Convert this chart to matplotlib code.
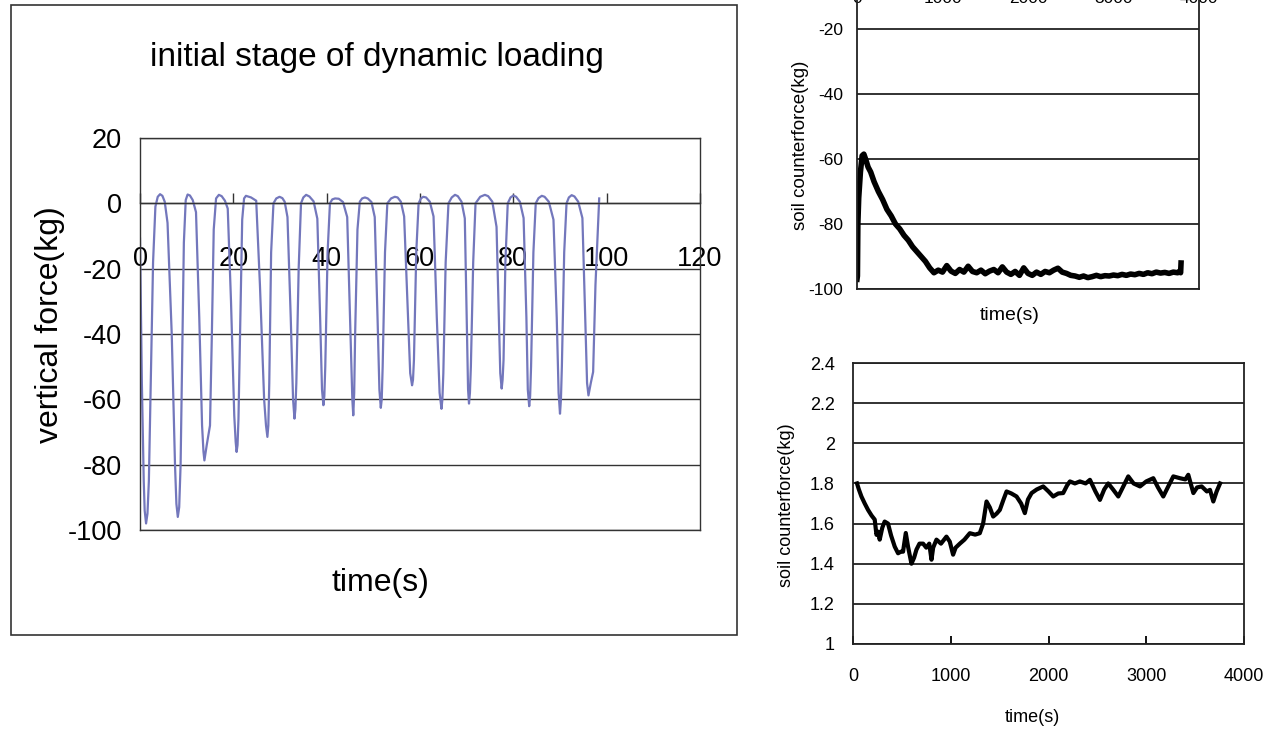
import matplotlib
matplotlib.use("Agg")
import matplotlib.pyplot as plt
from matplotlib.patches import Rectangle

plt.rcParams['font.family'] = ['Liberation Sans', 'DejaVu Sans']
plt.rcParams['axes.unicode_minus'] = False

# --- left chart: initial stage of dynamic loading
load_t = [0, 0.4, 0.8, 1.0, 1.3, 1.6, 1.9, 2.3, 2.8, 3.3, 3.8, 4.3, 4.8, 5.3, 5.9, 6.8, 7.5, 7.8,
          8.1, 8.4, 8.7, 9.0, 9.4, 9.8, 10.2, 10.7, 11.3, 12.0, 12.7, 13.3, 13.6, 13.8, 14.3, 15.0,
          15.4, 15.8, 16.3, 16.9, 17.5, 18.2, 18.8, 19.5, 20.2, 20.5, 20.7, 20.9, 21.1, 21.5, 21.9,
          22.3, 22.7, 23.8, 24.9, 25.7, 26.6, 27.0, 27.3, 27.5, 27.7, 28.1, 28.6, 29.2, 29.9, 30.5,
          31.0, 31.6, 32.3, 32.8, 33.1, 33.3, 33.5, 34.0, 34.5, 35.0, 35.6, 36.3, 37.2, 38.0, 38.6,
          39.0, 39.3, 39.5, 39.7, 40.2, 40.7, 41.2, 41.8, 42.6, 43.5, 44.4, 45.0, 45.5, 45.7, 45.9,
          46.1, 46.6, 47.1, 47.6, 48.2, 48.8, 49.6, 50.3, 50.9, 51.3, 51.6, 51.8, 52.0, 52.5, 53.0,
          53.8, 54.6, 55.2, 55.9, 56.6, 57.3, 57.9, 58.3, 58.5, 58.7, 59.2, 59.7, 60.2, 60.7, 61.3,
          62.1, 62.9, 63.6, 64.2, 64.6, 64.8, 65.0, 65.5, 66.1, 66.8, 67.5, 68.1, 68.9, 69.6, 70.0,
          70.3, 70.5, 70.7, 70.9, 71.4, 71.9, 72.9, 73.9, 74.6, 75.5, 76.4, 76.9, 77.2, 77.5, 77.7,
          77.9, 78.3, 78.8, 79.4, 80.0, 80.6, 81.4, 82.2, 82.8, 83.1, 83.4, 83.6, 83.8, 84.3, 84.8,
          85.4, 86.1, 86.7, 87.6, 88.6, 89.3, 89.7, 90.0, 90.2, 90.4, 90.9, 91.4, 91.9, 92.5, 93.1,
          93.9, 94.8, 95.4, 95.8, 96.1, 96.6, 97.1, 97.6, 98.4]
load_f = [-10.8, -55, -85, -94, -98, -95, -85, -55, -18, -1, 2.0, 2.8, 2.3, 0.5, -6, -40, -80, -92,
          -96, -93, -80, -50, -12, 1.0, 2.7, 2.4, 1.0, -2.7, -35, -68, -76, -78.7, -74, -68,
          -40, -8, 1.5, 2.6, 2.2, 0.8, -1.6, -30, -65, -73, -76.1, -74, -66, -35, -5,
          1.5, 2.3, 1.8, 0.8, -25, -60, -68, -71.5, -68, -55, -15, 0, 1.5, 2.0, 1.6,
          0.5, -4.2, -35, -60, -65.9, -63, -55, -20, 0, 1.8, 2.6, 2.1, 0.6, -4.7, -35,
          -57, -61.8, -59, -50, -15, 0, 1.2, 1.5, 1.4, 0.4, -4.2, -35, -60, -64.9, -58,
          -40, -8, 0.5, 1.5, 1.8, 1.5, 0.4, -4.2, -35, -57, -62.6, -60, -50, -15, 0,
          1.5, 2.0, 1.8, 0.5, -4.0, -30, -52, -55.7, -54, -48, -15, 0, 1.5, 2.0, 1.8,
          0.5, -4.0, -35, -58, -62.9, -60, -52, -18, 0, 1.8, 2.6, 2.2, 0.5, -4.6, -35,
          -57, -61.3, -58, -50, -18, 0, 2.0, 2.6, 2.2, 0.5, -7.2, -35, -52, -56.7, -54,
          -48, -18, 0, 1.8, 2.4, 2.0, 0.5, -4.5, -35, -57, -62.1, -59, -50, -15, 0,
          1.6, 2.3, 2.0, 0.5, -5.0, -35, -58, -64.4, -60, -50, -15, 0, 1.8, 2.5, 2.1,
          0.5, -4.5, -35, -55, -58.8, -55, -51.6, -25, 1.5]
load_xticks = [0, 20, 40, 60, 80, 100, 120]
load_yticks = [-100, -80, -60, -40, -20, 0, 20]

# --- top right: soil counterforce, long record
soil1_t = [0, 5, 10, 20, 40, 60, 80, 100, 130, 160, 200, 250, 300, 350, 400, 450, 500, 550, 600,
           650, 700, 750, 800, 850, 900, 950, 1000, 1050, 1100, 1150, 1200, 1250, 1300, 1350,
           1400, 1450, 1500, 1550, 1600, 1650, 1700, 1750, 1800, 1850, 1900, 1950, 2000, 2050,
           2100, 2150, 2200, 2250, 2300, 2350, 2400, 2450, 2500, 2550, 2600, 2650, 2700, 2750,
           2800, 2850, 2900, 2950, 3000, 3050, 3100, 3150, 3200, 3250, 3300, 3350, 3400, 3450,
           3500, 3550, 3600, 3650, 3700, 3750, 3770, 3785, 3790]
soil1_f = [-97, -96, -80, -72, -64, -59, -58.5, -60, -62.5, -64, -67, -70, -72.5, -75.5, -77.5,
           -80, -81.5, -83.5, -85, -87, -88.5, -90, -91.5, -93.5, -95, -94.2, -94.8, -92.8,
           -94.5, -95.2, -94.0, -94.8, -93.0, -94.6, -95.0, -94.2, -95.3, -94.5, -94.0, -95.0,
           -93.2, -94.8, -95.5, -94.6, -95.8, -93.5, -95.2, -95.8, -94.8, -95.5, -94.6, -95.0,
           -94.2, -93.6, -94.8, -95.2, -95.8, -96.0, -96.4, -96.0, -96.5, -96.2, -95.8, -96.2,
           -95.9, -96.0, -95.7, -95.9, -95.5, -95.8, -95.4, -95.6, -95.2, -95.5, -95.0, -95.3,
           -94.8, -95.1, -94.9, -95.2, -94.8, -95.0, -94.6, -95.0, -92.0]
soil1_xticks = [0, 1000, 2000, 3000, 4000]
soil1_yticks = [-100, -80, -60, -40, -20, 0]

# --- bottom right: soil counterforce, small range
soil2_t = [41, 60, 86, 120, 154, 190, 222, 240, 255, 273, 300, 324, 358, 390, 427, 461, 490, 512,
           540, 563, 598, 625, 649, 680, 717, 750, 780, 803, 820, 854, 900, 956, 990, 1024, 1050,
           1093, 1140, 1195, 1250, 1297, 1331, 1366, 1400, 1434, 1470, 1502, 1540, 1571, 1620,
           1673, 1720, 1758, 1790, 1827, 1880, 1946, 2000, 2048, 2100, 2150, 2190, 2219, 2270,
           2321, 2380, 2424, 2480, 2526, 2570, 2611, 2660, 2714, 2760, 2816, 2870, 2936, 3000,
           3072, 3120, 3174, 3230, 3277, 3345, 3400, 3430, 3482, 3520, 3567, 3620, 3652, 3686,
           3720, 3755]
soil2_f = [1.80, 1.77, 1.735, 1.70, 1.668, 1.64, 1.62, 1.544, 1.56, 1.52, 1.58, 1.61, 1.60, 1.54,
           1.485, 1.452, 1.46, 1.46, 1.553, 1.485, 1.40, 1.43, 1.47, 1.50, 1.50, 1.48, 1.50, 1.42,
           1.48, 1.52, 1.50, 1.535, 1.51, 1.445, 1.48, 1.50, 1.52, 1.552, 1.545, 1.552, 1.60,
           1.71, 1.68, 1.635, 1.65, 1.668, 1.72, 1.76, 1.75, 1.735, 1.70, 1.652, 1.72, 1.752,
           1.77, 1.785, 1.76, 1.735, 1.75, 1.752, 1.79, 1.81, 1.80, 1.81, 1.80, 1.818, 1.76,
           1.718, 1.77, 1.80, 1.77, 1.735, 1.78, 1.835, 1.80, 1.785, 1.81, 1.826, 1.78, 1.735,
           1.79, 1.835, 1.826, 1.82, 1.843, 1.752, 1.78, 1.785, 1.76, 1.768, 1.71, 1.76, 1.80]
soil2_xticks = [0, 1000, 2000, 3000, 4000]
soil2_yticks = [1, 1.2, 1.4, 1.6, 1.8, 2, 2.2, 2.4]
soil2_ylabels = ['1', '1.2', '1.4', '1.6', '1.8', '2', '2.2', '2.4']

W, H = 1273, 729
edge = '#333333'


def fig_rect(left, top, right, bottom):
    # pixel box -> figure fraction
    return [left / W, 1 - bottom / H, (right - left) / W, (bottom - top) / H]


fig = plt.figure(figsize=(W / 100, H / 100), dpi=100)

# frame around the left chart
fig.patches.append(Rectangle((11 / W, 1 - 635 / H), 726 / W, 630 / H, transform=fig.transFigure,
                             fill=False, ec=edge, lw=1.2))

# ---------------- left chart
ax = fig.add_axes(fig_rect(140, 138, 700, 530))
ax.plot(load_t, load_f, color='#7377BC', lw=1.6)
ax.set_xlim(0, 120)
ax.set_ylim(-100, 20)
ax.set_xticks(load_xticks)
ax.set_yticks(load_yticks)
ax.spines['bottom'].set_position(('data', 0))
for s in ax.spines.values():
    s.set_color(edge)
    s.set_linewidth(1.0)
ax.axhline(-100, color=edge, lw=1.0, clip_on=False)
ax.grid(axis='y', color=edge, lw=1.0)
ax.tick_params(axis='x', direction='in', length=7, width=1.0, color=edge, pad=31, labelsize=19.5)
ax.tick_params(axis='y', length=0, pad=13, labelsize=19.5)
ax.set_ylabel('vertical force(kg)', fontsize=23, va='center')
ax.yaxis.set_label_coords(-0.161, 0.523)
ax.set_xlabel('time(s)', fontsize=23, va='center')
ax.xaxis.set_label_coords(0.4286, -0.135)
ax.set_title('initial stage of dynamic loading', fontsize=24, x=0.423, y=1.185, va='center')

# ---------------- top right chart (top edge runs off the figure, as in the source)
ax1 = fig.add_axes(fig_rect(857, -36, 1199, 289))
ax1.plot(soil1_t, soil1_f, color='black', lw=4.0, solid_joinstyle='round')
ax1.set_xlim(0, 4000)
ax1.set_ylim(-100, 0)
ax1.set_xticks(soil1_xticks)
ax1.set_yticks(soil1_yticks)
for s in ax1.spines.values():
    s.set_color('#222222')
    s.set_linewidth(1.3)
ax1.grid(axis='y', color='#222222', lw=1.3)
ax1.tick_params(axis='x', top=True, bottom=False, labeltop=True, labelbottom=False,
                direction='in', length=6, pad=-30, labelsize=12.5)
ax1.tick_params(axis='y', length=0, pad=10, labelsize=12.5)
ax1.set_ylabel('soil counterforce(kg)', fontsize=13.5, va='center')
ax1.yaxis.set_label_coords(-0.164, 0.443)
ax1.xaxis.set_label_position('bottom')
ax1.set_xlabel('time(s)', fontsize=14, va='center')
ax1.xaxis.set_label_coords(0.447, -0.083)

# ---------------- bottom right chart
ax2 = fig.add_axes(fig_rect(853, 363, 1244, 644))
ax2.plot(soil2_t, soil2_f, color='black', lw=3.0, solid_joinstyle='round')
ax2.set_xlim(0, 4000)
ax2.set_ylim(1, 2.4)
ax2.set_xticks(soil2_xticks)
ax2.set_yticks(soil2_yticks)
ax2.set_yticklabels(soil2_ylabels)
for s in ax2.spines.values():
    s.set_color('#222222')
    s.set_linewidth(1.3)
ax2.grid(axis='y', color='#222222', lw=1.3)
ax2.tick_params(axis='x', direction='in', length=6, width=1.3, pad=17, labelsize=13)
ax2.tick_params(axis='y', length=0, pad=13, labelsize=13)
ax2.set_ylabel('soil counterforce(kg)', fontsize=13, va='center')
ax2.yaxis.set_label_coords(-0.170, 0.495)
ax2.set_xlabel('time(s)', fontsize=13, va='center')
ax2.xaxis.set_label_coords(0.46, -0.26)

fig.savefig('out.png', dpi=100)
